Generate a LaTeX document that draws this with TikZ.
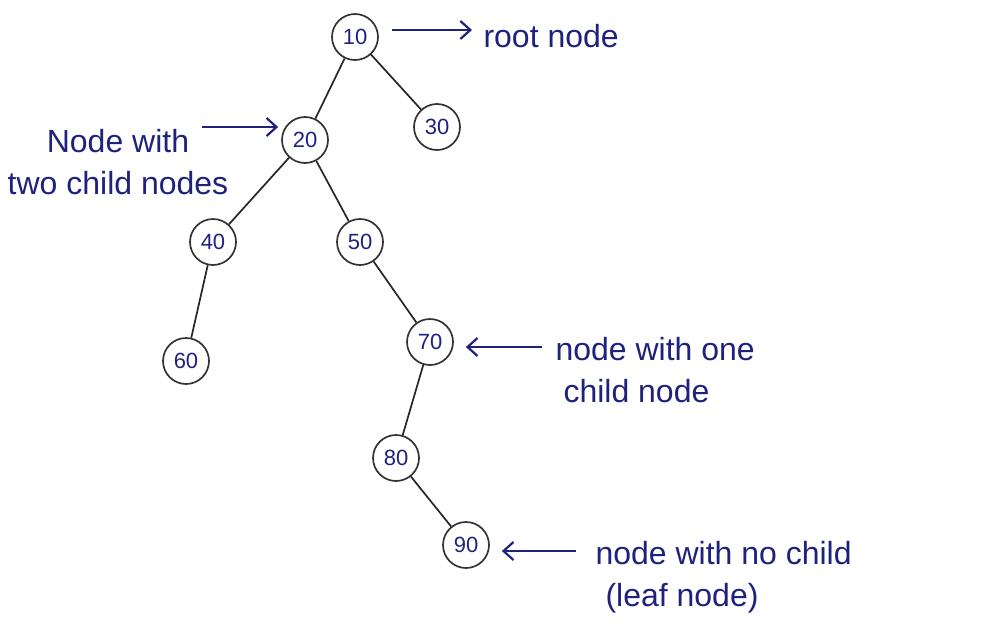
\documentclass[tikz,border=0pt]{standalone}
\usepackage{fontspec}
\setmainfont{Liberation Sans}
\usetikzlibrary{arrows.meta}

\definecolor{ink}{RGB}{30,34,125}

\begin{document}
\begin{tikzpicture} [
	   x=1pt, y=-1pt,
	   tnode/.style = { circle, draw=black!80, line width=1.7pt, minimum size=46pt, inner sep=0pt,
	                    text=ink, font=\fontsize{22}{24}\selectfont },
	   edge/.style  = { draw=black!85, line width=1.7pt },
	   note/.style  = { text=ink, align=left, font=\fontsize{32}{42}\selectfont },
	   pointer/.style = { draw=ink, line width=2.2pt, -{Straight Barb[length=10pt,width=18pt]} },
	 ]
	  \useasboundingbox (0,0) rectangle (984,640);

	  % the tree
	  \node [tnode] (n10) at (355,37)  {10};
	  \node [tnode] (n20) at (305,140) {20};
	  \node [tnode] (n30) at (437,127) {30};
	  \node [tnode] (n40) at (213,242) {40};
	  \node [tnode] (n50) at (360,242) {50};
	  \node [tnode] (n60) at (186,361) {60};
	  \node [tnode] (n70) at (430,342) {70};
	  \node [tnode] (n80) at (396,458) {80};
	  \node [tnode] (n90) at (466,545) {90};

	  \begin{scope} [every path/.style=edge]
		\path (n10) -- (n20);
		\path (n10) -- (n30);
		\path (n20) -- (n40);
		\path (n20) -- (n50);
		\path (n40) -- (n60);
		\path (n50) -- (n70);
		\path (n70) -- (n80);
		\path (n80) -- (n90);
	  \end{scope}

	  % notes
	  \node [note, anchor=west] (lroot) at (480,36) {root node};
	  \node [note, align=center] (ltwo) at (118,162) {Node with\\two child nodes};
	  \node [note, anchor=west] (lone)  at (552,370) {node with one\\\hspace*{8pt}child node};
	  \node [note, anchor=west] (lleaf) at (592,577) {node with no child\\\hspace*{10pt}(leaf node)};

	  \coordinate (proot) at (392,30);
	  \coordinate (ptwo)  at (202,127);
	  \coordinate (pone)  at (542,347);
	  \coordinate (pleaf) at (576,551);

	  \begin{scope} [every path/.style=pointer]
		\path (proot) -- ([xshift=-8pt]lroot.west |- proot);
		\path (ptwo) -- ([xshift=-3pt]n20.west |- ptwo);
		\path (pone) -- ([xshift=12pt]n70.east |- pone);
		\path (pleaf) -- ([xshift=12pt]n90.east |- pleaf);
	  \end{scope}
	\end{tikzpicture}
\end{document}
